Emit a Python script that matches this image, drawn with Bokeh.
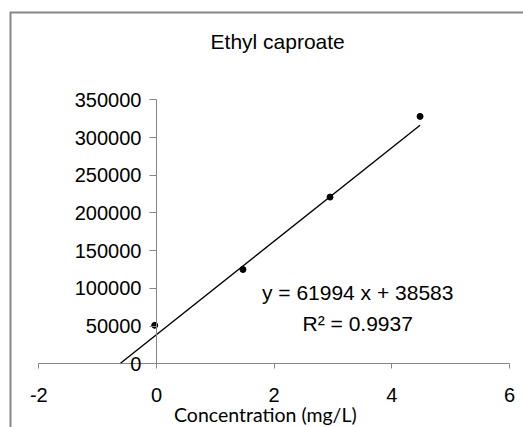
from bokeh.plotting import figure
from bokeh.models import Range1d, FixedTicker, Label, BasicTickFormatter
from bokeh.embed import file_html
from bokeh.resources import INLINE

# ---- data ----
concentration = [-0.03, 1.47, 2.95, 4.48]
peak_area = [51000, 125000, 221000, 328000]
slope = 61994
intercept = 38583
r_squared = 0.9937
x_ticks = [-2, 0, 2, 4, 6]
y_ticks = [0, 50000, 100000, 150000, 200000, 250000, 300000, 350000]
chart_title = "Ethyl caproate"
x_title = "Concentration (mg/L)"

GRAY = "#868686"
FONT = "Liberation Sans"

p = figure(width=523, height=427,
           x_range=Range1d(-2.498, 6.238), y_range=Range1d(-84450, 467060),
           output_backend="svg", toolbar_location=None,
           min_border_left=9, min_border_right=0, min_border_top=11, min_border_bottom=0)
p.outline_line_color = None
p.grid.visible = False
p.background_fill_color = "white"
p.border_fill_color = "white"

# chart-area border (left & top visible)
xs_b = [p.x_range.start, p.x_range.start, p.x_range.end]
ys_b = [p.y_range.start, p.y_range.end, p.y_range.end]
p.line(xs_b, ys_b, line_color=GRAY, line_width=4)

# axes crossing at 0
xa = p.xaxis[0]
xa.fixed_location = 0
xa.bounds = (x_ticks[0], x_ticks[-1])
xa.ticker = FixedTicker(ticks=x_ticks)
xa.major_label_overrides = {t: str(t) for t in x_ticks}
xa.axis_line_color = GRAY
xa.major_tick_line_color = GRAY
xa.major_tick_out = 5
xa.major_tick_in = 0
xa.minor_tick_line_color = None
xa.major_label_text_font = FONT
xa.major_label_text_font_size = "20px"
xa.major_label_text_color = "black"
xa.major_label_standoff = 19

ya = p.yaxis[0]
ya.fixed_location = 0
ya.bounds = (y_ticks[0], y_ticks[-1])
ya.ticker = FixedTicker(ticks=y_ticks)
ya.formatter = BasicTickFormatter(use_scientific=False)
ya.axis_line_color = GRAY
ya.major_tick_line_color = GRAY
ya.major_tick_out = 7
ya.major_tick_in = 0
ya.minor_tick_line_color = None
ya.major_label_text_font = FONT
ya.major_label_text_font_size = "20px"
ya.major_label_text_color = "black"
ya.major_label_standoff = 8

# trendline from stated equation
x0 = -intercept / slope
x1 = max(concentration)
p.line([x0, x1], [slope * x0 + intercept, slope * x1 + intercept],
       line_color="black", line_width=1.4)

# points
p.scatter(concentration, peak_area, size=6, fill_color="black", line_color="black")

# title
p.add_layout(Label(x=2.06, y=427300, text=chart_title, text_align="center",
                   text_baseline="alphabetic", text_font=FONT, text_font_size="21px",
                   text_color="black"))

# x axis title
p.add_layout(Label(x=1.85, y=-67200, text=x_title, text_align="center",
                   text_baseline="alphabetic", text_font="Lato", text_font_size="19.5px",
                   text_color="black"))

# equation labels
p.add_layout(Label(x=3.42, y=94130, text=f"y = {slope} x + {intercept}", text_align="center",
                   text_baseline="alphabetic", text_font=FONT, text_font_size="21px",
                   text_color="black"))
p.add_layout(Label(x=3.42, y=53430, text=f"R\u00b2 = {r_squared}", text_align="center",
                   text_baseline="alphabetic", text_font=FONT, text_font_size="21px",
                   text_color="black"))

open("out.html", "w").write(file_html(p, INLINE))
